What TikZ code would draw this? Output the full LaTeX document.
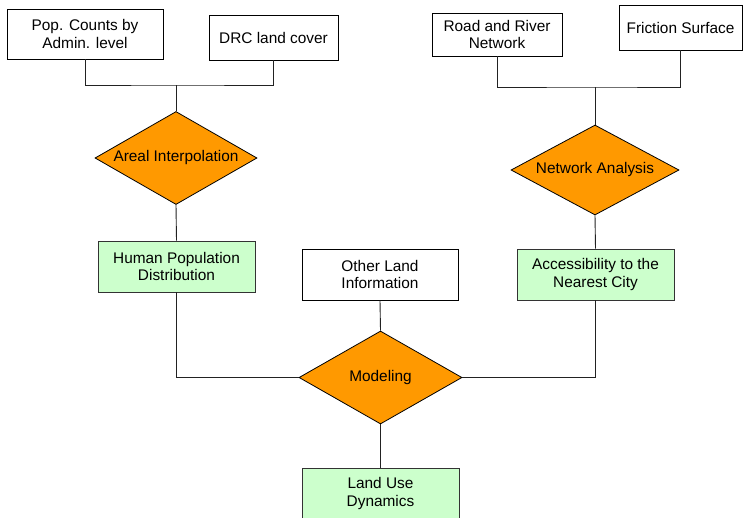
\documentclass[tikz,border=0pt]{standalone}
\usepackage{fontspec}
\setmainfont{Liberation Sans}
\usepackage{xcolor}
\usetikzlibrary{shapes.geometric}
\definecolor{procorange}{HTML}{FF9900}
\definecolor{resultgreen}{HTML}{CCFFCC}
\definecolor{edge}{HTML}{222222}
\tikzset{
  DataBox/.style={
    draw=black, line width=0.9pt, fill=white,
    inner sep=0pt, align=center,
    font=\fontsize{15.4}{17.5}\selectfont
  },
  ResultBox/.style={
    DataBox, fill=resultgreen, draw=black!80
  },
  ProcDiamond/.style={
    draw=black, line width=0.8pt, fill=procorange,
    shape=diamond, aspect=2, inner sep=0pt,
    font=\fontsize{15.4}{17.5}\selectfont
  },
  Link/.style={draw=edge, line width=0.9pt}
}

\begin{document}
\begin{tikzpicture}[x=1pt, y=-1pt, line join=miter]
  \useasboundingbox (0,0) rectangle (743,517);
  \clip (0,0) rectangle (743,517);

  % input data
  \node[DataBox, minimum width=156pt, minimum height=50pt] (pop) at (85,34)
    {Pop. Counts by\\Admin. level};
  \node[DataBox, minimum width=129pt, minimum height=45pt] (drc) at (273.5,37.5)
    {DRC land cover};
  \node[DataBox, minimum width=130pt, minimum height=43pt] (road) at (497,34.5)
    {Road and River\\Network};
  \node[DataBox, minimum width=123pt, minimum height=45pt] (fric) at (680.5,27.5)
    {Friction Surface};

  % processing steps
  \node[ProcDiamond, minimum width=162pt, minimum height=93pt] (areal) at (176,158)
    {Areal Interpolation};
  \node[ProcDiamond, minimum width=168pt, minimum height=90pt] (netw) at (595,170)
    {Network Analysis};
  \node[ProcDiamond, minimum width=163pt, minimum height=93pt] (model) at (380.5,377.5)
    {Modeling};

  % intermediate and final results
  \node[ResultBox, minimum width=157pt, minimum height=51pt] (hpd) at (176.5,266.5)
    {Human Population\\Distribution};
  \node[DataBox, minimum width=156pt, minimum height=51pt] (oli) at (380,274.5)
    {Other Land\\Information};
  \node[ResultBox, minimum width=157pt, minimum height=51pt] (acc) at (595.5,274.5)
    {Accessibility to the\\Nearest City};
  \node[ResultBox, minimum width=157pt, minimum height=51pt] (lud) at (380.5,493.5)
    {Land Use\\Dynamics};

  % junctions
  \coordinate (jleft) at (176,85);
  \coordinate (jright) at (595,87);

  % connectors
  \draw[Link] (pop.south) |- (jleft) -| (drc.south);
  \draw[Link] (jleft) -- (areal.north);
  \draw[Link] (road.south) |- (jright) -| (fric.south);
  \draw[Link] (jright) -- (netw.north);
  \draw[Link] (areal.south) -- (hpd.north);
  \draw[Link] (netw.south) -- (acc.north);
  \draw[Link] (hpd.south) |- (model.west);
  \draw[Link] (acc.south) |- (model.east);
  \draw[Link] (oli.south) -- (model.north);
  \draw[Link] (model.south) -- (lud.north);
\end{tikzpicture}
\end{document}
